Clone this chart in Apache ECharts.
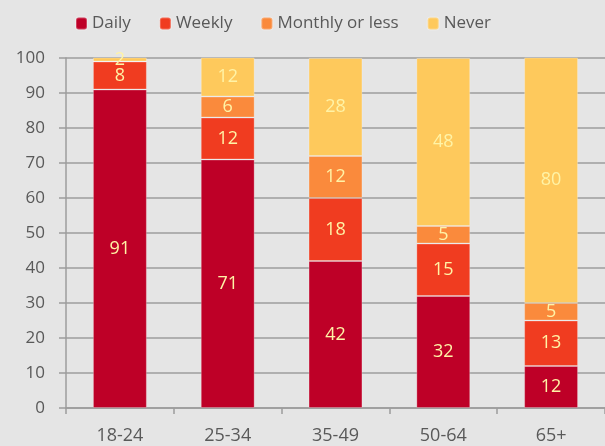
<!DOCTYPE html>
<html>
<head>
<meta charset="utf-8">
<script src="https://cdn.jsdelivr.net/npm/echarts@6/dist/echarts.min.js"></script>
<style>
    html, body { margin: 0; padding: 0; background: #e5e5e5; }
    #main { width: 605px; height: 446px; }
</style>
</head>
<body>
<div id="main"></div>
<script>
    // age groups
    var categories = ['18-24', '25-34', '35-49', '50-64', '65+'];

    var daily = [91, 71, 42, 32, 12];
    var weekly = [8, 12, 18, 15, 13];
    var monthly = [0, 6, 12, 5, 5];
    var never = [2, 12, 28, 48, 80];

    var yTicks = [0, 10, 20, 30, 40, 50, 60, 70, 80, 90, 100];

    var font = 'Open Sans';

    function makeSeries(name, data, color) {
        return {
            name: name,
            type: 'bar',
            stack: 'total',
            barWidth: '50%',
            data: data,
            itemStyle: {
                color: color,
                borderColor: 'rgba(255,255,255,0.25)',
                borderWidth: 1
            },
            label: {
                show: true,
                position: 'inside',
                color: '#fff3a6',
                fontFamily: font,
                fontSize: 18,
                formatter: function (p) {
                    return p.value ? p.value : '';
                }
            }
        };
    }

    var myChart = echarts.init(document.getElementById('main'));
    var option = {
        backgroundColor: '#e5e5e5',
        animation: false,
        legend: {
            top: 10,
            left: 70,
            itemWidth: 11,
            itemHeight: 12,
            itemGap: 28,
            textStyle: {
                color: '#595959',
                fontFamily: font,
                fontSize: 17
            },
            data: ['Daily', 'Weekly', 'Monthly or less', 'Never']
        },
        grid: {
            left: 66,
            right: -1,
            top: 58,
            bottom: 38
        },
        xAxis: {
            type: 'category',
            data: categories,
            axisLine: {lineStyle: {color: '#9c9c9c', width: 1.5}},
            axisTick: {show: true, length: 6, lineStyle: {color: '#9c9c9c', width: 1.5}},
            axisLabel: {
                color: '#595959',
                fontFamily: font,
                fontSize: 18,
                margin: 19
            }
        },
        yAxis: {
            type: 'value',
            min: 0,
            max: 100,
            interval: 10,
            axisLine: {show: true, lineStyle: {color: '#9c9c9c', width: 1.5}},
            axisTick: {show: true, length: 7, lineStyle: {color: '#9c9c9c', width: 1.5}},
            splitLine: {lineStyle: {color: '#9c9c9c', width: 1.5}},
            axisLabel: {
                color: '#595959',
                fontFamily: font,
                fontSize: 17,
                margin: 21,
                formatter: function (v) {
                    return yTicks.indexOf(v) >= 0 ? v : '';
                }
            }
        },
        series: [
            makeSeries('Daily', daily, '#be0027'),
            makeSeries('Weekly', weekly, '#f03c20'),
            makeSeries('Monthly or less', monthly, '#fa8a3c'),
            makeSeries('Never', never, '#fec95c')
        ]
    };
    myChart.setOption(option);
</script>
</body>
</html>
